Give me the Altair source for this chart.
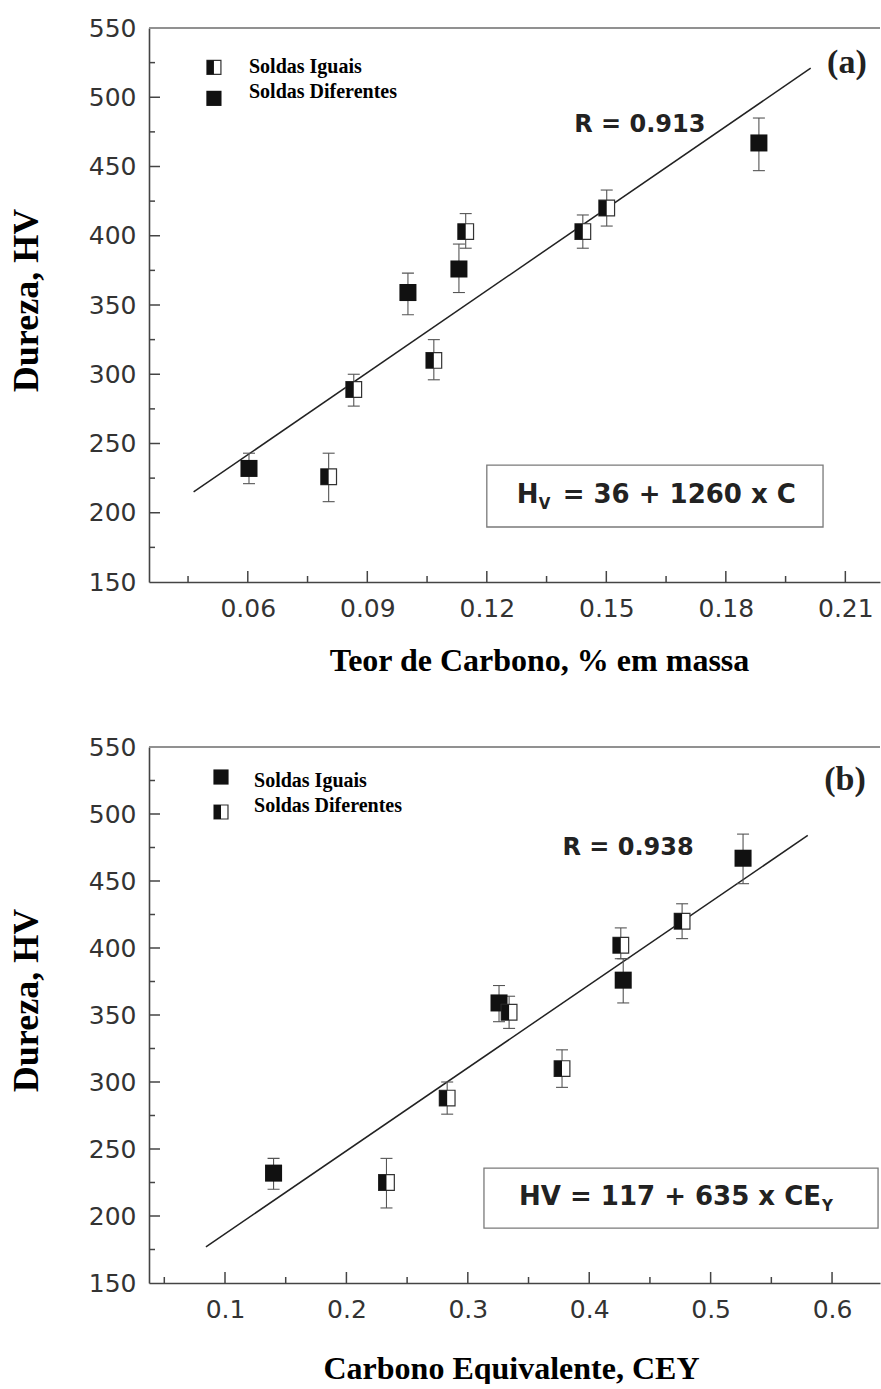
import altair as alt
import pandas as pd

# ---------------- Painel (a): teor de carbono ----------------
a_x = [0.0603, 0.0803, 0.0866, 0.1002, 0.1067, 0.1130, 0.1147, 0.1441, 0.1501, 0.1883]
a_y = [232, 226, 289, 359, 310, 376, 403, 403, 420, 467]
a_lo = [221, 208, 277, 343, 296, 359, 391, 391, 407, 447]
a_hi = [243, 243, 300, 373, 325, 394, 416, 415, 433, 485]
a_tipo = ["cheio", "meio", "meio", "cheio", "meio", "cheio", "meio", "meio", "meio", "cheio"]
a_fit_x = [0.0464, 0.2013]
a_fit_y = [215, 521]
a_leg_text = ["Soldas Iguais", "Soldas Diferentes"]
a_leg_tipo = ["meio", "cheio"]
a_leg_mx = [0.0515, 0.0515]
a_leg_my = [521.6, 499.2]
a_leg_tx = [0.0603, 0.0603]
a_leg_ty = [521.6, 503.5]
a_r = ["R = 0.913"]
a_r_pos = [0.1584, 479.7]
a_tag = ["(a)"]
a_tag_pos = [0.2104, 525]
a_box = [0.12, 0.2044, 189.7, 234.4]
a_eq_pos = [0.1275, 212.8]
a_eq = ["H", "V", "= 36 + 1260 x C"]
a_xdom = [0.0352, 0.2187]
a_xmaj = [0.06, 0.09, 0.12, 0.15, 0.18, 0.21]
a_xmin = [0.045, 0.075, 0.105, 0.135, 0.165, 0.195]
a_xtitle = "Teor de Carbono, % em massa"

# ---------------- Painel (b): carbono equivalente ----------------
b_x = [0.140, 0.233, 0.283, 0.3257, 0.334, 0.3776, 0.426, 0.428, 0.4765, 0.5267]
b_y = [232, 225, 288, 359, 352, 310, 402, 376, 420, 467]
b_lo = [220, 206, 276, 345, 340, 296, 392, 359, 407, 448]
b_hi = [243, 243, 300, 372, 364, 324, 415, 392, 433, 485]
b_tipo = ["cheio", "meio", "meio", "cheio", "meio", "meio", "meio", "cheio", "meio", "cheio"]
b_fit_x = [0.0843, 0.580]
b_fit_y = [177, 484]
b_leg_text = ["Soldas Iguais", "Soldas Diferentes"]
b_leg_tipo = ["cheio", "meio"]
b_leg_mx = [0.0967, 0.0967]
b_leg_my = [527.6, 501.5]
b_leg_tx = [0.1239, 0.1239]
b_leg_ty = [524.6, 506.0]
b_r = ["R = 0.938"]
b_r_pos = [0.432, 474.6]
b_tag = ["(b)"]
b_tag_pos = [0.6107, 525.4]
b_box = [0.3133, 0.6379, 191.0, 235.8]
b_eq_pos = [0.3422, 214.2]
b_eq = ["HV = 117 + 635 x CE", "Y"]
b_xdom = [0.0374, 0.6395]
b_xmaj = [0.1, 0.2, 0.3, 0.4, 0.5, 0.6]
b_xmin = [0.05, 0.15, 0.25, 0.35, 0.45, 0.55]
b_xtitle = "Carbono Equivalente, CEY"

y_labels = [150, 200, 250, 300, 350, 400, 450, 500, 550]
y_maj_ticks = [200, 250, 300, 350, 400, 450, 500]
y_min_ticks = [175, 225, 275, 325, 375, 425, 475, 525]
y_dom = [150, 550]

SANS = "DejaVu Sans"
SERIF = "Liberation Serif"
INK = "#111111"
AXC = "#444444"


def painel(W, H, xdom, xmaj, xmin, xfmt, xtitle, xtitle_x, xtitle_y, ytitle_y,
           px, py, plo, phi, ptipo, fx, fy,
           leg_text, leg_tipo, leg_mx, leg_my, leg_tx, leg_ty,
           r_txt, r_pos, tag, tag_pos, box, eq_layers):
    xs = alt.Scale(domain=xdom, nice=False, zero=False)
    ys = alt.Scale(domain=y_dom, nice=False, zero=False)
    ax_x = alt.Axis(
        values=xmaj, format=xfmt, ticks=False, grid=False,
        domainColor=AXC, domainWidth=1.6,
        labelFont=SANS, labelFontSize=25, labelColor="#333333",
        labelPadding=14, labelOverlap=False, labelFlush=False,
        title=xtitle, titleFont=SERIF, titleFontSize=32, titleFontWeight="bold",
        titleColor="black", titleX=xtitle_x, titleY=xtitle_y,
        titleAlign="center", titleBaseline="middle")
    ax_y = alt.Axis(
        values=y_labels, format="d", ticks=False, grid=False,
        domainColor=AXC, domainWidth=1.6,
        labelFont=SANS, labelFontSize=25, labelColor="#333333",
        labelPadding=13, labelOverlap=False, labelFlush=False,
        title="Dureza, HV", titleFont=SERIF, titleFontSize=36, titleFontWeight="bold",
        titleColor="black", titleX=-123, titleY=ytitle_y, titleAngle=270,
        titleAlign="center", titleBaseline="middle")
    XN = lambda f: alt.X(f"{f}:Q", scale=xs, axis=ax_x)
    YN = lambda f: alt.Y(f"{f}:Q", scale=ys, axis=ax_y)

    layers = []
    fit = pd.DataFrame({"x": fx, "y": fy})
    layers.append(
        alt.Chart(fit).mark_line(color="#222222", strokeWidth=1.5).encode(
            x=XN("x"), y=YN("y"))
    )
    # top frame line
    layers.append(
        alt.Chart(fit).mark_rule(color="#8a8a8a", strokeWidth=1.5).encode(
            x=alt.value(0), x2=alt.value(W), y=alt.value(0))
    )
    # equation box
    bx = pd.DataFrame({"x": [box[0]], "x2": [box[1]], "y": [box[2]], "y2": [box[3]]})
    layers.append(
        alt.Chart(bx).mark_rect(fill="white", stroke="#7a7a7a", strokeWidth=1.3).encode(
            x=XN("x"), x2="x2:Q", y=YN("y"), y2="y2:Q")
    )
    # error bars
    pts = pd.DataFrame({"x": px, "y": py, "lo": plo, "hi": phi, "tipo": ptipo})
    layers.append(
        alt.Chart(pts).mark_rule(color="#555555", strokeWidth=1.1).encode(
            x=XN("x"), y=YN("lo"), y2="hi:Q")
    )
    for f in ["lo", "hi"]:
        layers.append(
            alt.Chart(pts).mark_tick(orient="horizontal", size=12, thickness=1.1,
                                     color="#555555", opacity=1).encode(x=XN("x"), y=YN(f))
        )

    def markers(df, sz):
        base = alt.Chart(df).encode(x=XN("x"), y=YN("y"))
        return [
            base.transform_filter(alt.datum.tipo == "cheio").mark_point(
                shape="square", filled=True, size=sz, color=INK, opacity=1),
            base.transform_filter(alt.datum.tipo == "meio").mark_point(
                shape="square", filled=True, fill="white", stroke="#333333",
                strokeWidth=1.2, size=sz * 0.85, opacity=1),
            base.transform_filter(alt.datum.tipo == "meio").mark_point(
                shape="M-1,-1H0V1H-1Z", filled=True, color=INK, size=sz * 0.85, opacity=1),
        ]

    layers += markers(pts, 290)
    leg_m = pd.DataFrame({"x": leg_mx, "y": leg_my, "tipo": leg_tipo})
    layers += markers(leg_m, 230)
    leg_t = pd.DataFrame({"x": leg_tx, "y": leg_ty, "t": leg_text})
    layers.append(
        alt.Chart(leg_t).mark_text(font=SERIF, fontSize=20, fontWeight="bold", color="black",
                                   align="left", baseline="middle").encode(
            x=XN("x"), y=YN("y"), text="t:N")
    )
    layers.append(
        alt.Chart(pd.DataFrame({"x": [r_pos[0]], "y": [r_pos[1]], "t": r_txt})).mark_text(
            font=SANS, fontSize=24, fontWeight="bold", color="#222222",
            align="center", baseline="middle").encode(x=XN("x"), y=YN("y"), text="t:N")
    )
    layers.append(
        alt.Chart(pd.DataFrame({"x": [tag_pos[0]], "y": [tag_pos[1]], "t": tag})).mark_text(
            font=SERIF, fontSize=34, fontWeight="bold", color="#222222",
            align="center", baseline="middle").encode(x=XN("x"), y=YN("y"), text="t:N")
    )
    for (pos, txt, size, dx, dy) in eq_layers:
        layers.append(
            alt.Chart(pd.DataFrame({"x": [pos[0]], "y": [pos[1]], "t": [txt]})).mark_text(
                font=SANS, fontSize=size, fontWeight="bold", color="#222222",
                align="left", baseline="middle", dx=dx, dy=dy).encode(
                x=XN("x"), y=YN("y"), text="t:N")
        )
    # inward ticks
    for vals, L in [(xmaj, 11), (xmin, 6)]:
        layers.append(
            alt.Chart(pd.DataFrame({"v": vals})).mark_rule(color=AXC, strokeWidth=1.5).encode(
                x=XN("v"), y=alt.value(H), y2=alt.value(H - L))
        )
    for vals, L in [(y_maj_ticks, 11), (y_min_ticks, 6)]:
        layers.append(
            alt.Chart(pd.DataFrame({"v": vals})).mark_rule(color=AXC, strokeWidth=1.5).encode(
                y=YN("v"), x=alt.value(0), x2=alt.value(L))
        )
    return alt.layer(*layers).properties(width=W, height=H)


top = painel(731, 554, a_xdom, a_xmaj, a_xmin, ".2f", a_xtitle, 390, 78, 272,
             a_x, a_y, a_lo, a_hi, a_tipo, a_fit_x, a_fit_y,
             a_leg_text, a_leg_tipo, a_leg_mx, a_leg_my, a_leg_tx, a_leg_ty,
             a_r, a_r_pos, a_tag, a_tag_pos, a_box,
             [(a_eq_pos, a_eq[0], 26, 0, 0), (a_eq_pos, a_eq[1], 15, 22, 9),
              (a_eq_pos, a_eq[2], 26, 46, 0)])

bottom = painel(731, 536, b_xdom, b_xmaj, b_xmin, ".1f", b_xtitle, 362, 85, 253,
                b_x, b_y, b_lo, b_hi, b_tipo, b_fit_x, b_fit_y,
                b_leg_text, b_leg_tipo, b_leg_mx, b_leg_my, b_leg_tx, b_leg_ty,
                b_r, b_r_pos, b_tag, b_tag_pos, b_box,
                [(b_eq_pos, b_eq[0], 26, 0, 0), (b_eq_pos, b_eq[1], 15, 303, 9)])

chart = alt.vconcat(top, bottom, spacing=165, bounds="flush").properties(
    padding={"left": 8, "top": 16, "right": 0, "bottom": 0}
).configure(background="white").configure_view(stroke=None)

chart.save("out.html", embed_options={"renderer": "svg", "actions": False})
